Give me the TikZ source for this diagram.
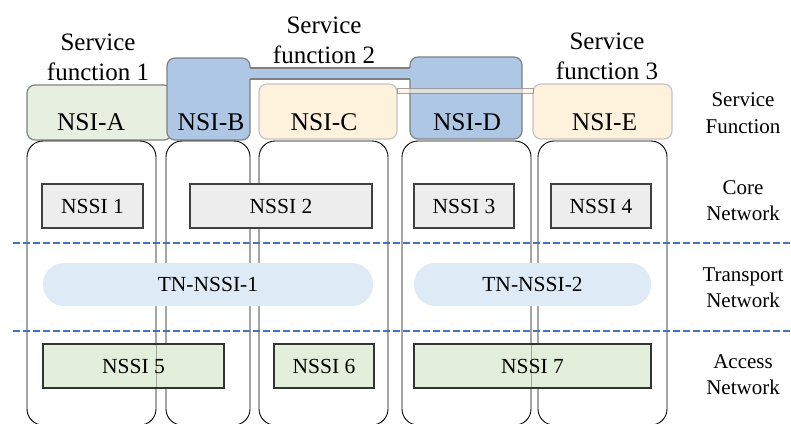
\documentclass[tikz,border=0pt]{standalone}
\usepackage{fontspec}
\setmainfont{Liberation Serif}
\usetikzlibrary{fit}
\definecolor{nsiGreen}{HTML}{E7F0E0}
\definecolor{nsiBlue}{HTML}{ADC7E5}
\definecolor{nsiCream}{HTML}{FFF2DC}
\definecolor{coreFill}{HTML}{EDEDED}
\definecolor{accFill}{HTML}{E2EFDA}
\definecolor{tnFill}{HTML}{DEEBF7}
\definecolor{sepBlue}{HTML}{4472C4}
\definecolor{edgeGray}{HTML}{808080}
\definecolor{lightEdge}{HTML}{C4C4C4}
\begin{document}
\begin{tikzpicture}[x=1pt,y=-1pt,
  box/.style={inner sep=0pt, outer sep=0pt},
  nsibox/.style={box, rounded corners=8pt, line width=1.2pt, draw=edgeGray},
  colbox/.style={box, rounded corners=16pt, draw=black, line width=0.9pt},
  nssilabel/.style={font=\fontsize{21.5}{24}\selectfont, text height=14.2pt, text depth=0pt},
  corebox/.style={box, nssilabel, minimum height=44pt, fill=coreFill, draw=black!75, line width=1.3pt},
  accbox/.style={box, nssilabel, minimum height=44pt, fill=accFill, draw=black!80, line width=1.5pt},
  tnbox/.style={box, nssilabel, minimum height=43pt, fill=tnFill, rounded corners=21pt},
  sepline/.style={draw=sepBlue, line width=1.8pt, dash pattern=on 7pt off 3pt},
  svclabel/.style={font=\fontsize{25}{30}\selectfont, align=center, inner sep=0pt},
  nsilabel/.style={font=\fontsize{25.5}{30}\selectfont, anchor=base, inner sep=0pt},
  sidelabel/.style={font=\fontsize{21}{26.3}\selectfont, align=center, inner sep=0pt},
]
\useasboundingbox (0,0) rectangle (791,423);

% network slice instances
\node[nsibox, fill=nsiGreen, fit={(27,85) (172,140)}] (nsiA) {};
\node[nsibox, fill=nsiBlue, fit={(167,58) (250,140)}] (nsiB) {};
\node[nsibox, fill=nsiBlue, fit={(410,57) (522,139)}] (nsiD) {};
% shared link between NSI-B and NSI-D
\coordinate (bTop) at (0,68);
\coordinate (bBot) at (0,79);
\fill[nsiBlue] ([xshift=-2pt]nsiB.east |- bTop) rectangle ([xshift=2pt]nsiD.west |- bBot);
\draw[edgeGray, line width=1.2pt] (nsiB.east |- bTop) -- (nsiD.west |- bTop);
\draw[edgeGray, line width=1.2pt] (nsiB.east |- bBot) -- (nsiD.west |- bBot);

\node[nsibox, fill=nsiCream, draw=lightEdge, fit={(259,84) (397,139)}] (nsiC) {};
\node[nsibox, fill=nsiCream, draw=lightEdge, fit={(533,84) (672,139)}] (nsiE) {};
% shared link between NSI-C and NSI-E
\coordinate (cTop) at (0,88);
\coordinate (cBot) at (0,93);
\path[fill=nsiCream, fill opacity=0.6, draw=edgeGray, draw opacity=0.7, line width=0.9pt]
  (nsiC.east |- cTop) rectangle (nsiE.west |- cBot);

% vertical slice columns
\node[colbox, fit={(27,141) (156,425)}] (colA) {};
\node[colbox, fit={(166,141) (250,425)}] (colB) {};
\node[colbox, fit={(259,141) (388,425)}] (colC) {};
\node[colbox, fit={(402,141) (531,425)}] (colD) {};
\node[colbox, fit={(538,141) (667,425)}] (colE) {};

% core network subnet slices
\node[corebox, minimum width=101pt] (nssi1) at (92.5,206) {NSSI 1};
\node[corebox, minimum width=182pt] (nssi2) at (281,206) {NSSI 2};
\node[corebox, minimum width=100pt] (nssi3) at (464,206) {NSSI 3};
\node[corebox, minimum width=100pt] (nssi4) at (601,206) {NSSI 4};

% transport network subnet slices
\node[tnbox, minimum width=330pt] (tn1) at (208,284.5) {TN-NSSI-1};
\node[tnbox, minimum width=237pt] (tn2) at (532.5,284.5) {TN-NSSI-2};

% access network subnet slices
\node[accbox, minimum width=181pt] (nssi5) at (133.5,366) {NSSI 5};
\node[accbox, minimum width=100pt] (nssi6) at (324,366) {NSSI 6};
\node[accbox, minimum width=237pt] (nssi7) at (532.5,366) {NSSI 7};
% column edges seen through the access boxes
\draw[black, opacity=0.3, line width=0.9pt] (colA.east |- nssi5.north) -- (colA.east |- nssi5.south);
\draw[black, opacity=0.3, line width=0.9pt] (colD.east |- nssi7.north) -- (colD.east |- nssi7.south);

% domain separators
\coordinate (s1l) at (13,243);
\coordinate (s1r) at (791,243);
\coordinate (s2l) at (13,331);
\coordinate (s2r) at (791,331);
\draw[sepline] (s1l) -- (s1r);
\draw[sepline] (s2l) -- (s2r);

% service function captions
\node[svclabel] (sf1) at (98,57) {Service\\function 1};
\node[svclabel] (sf2) at (324,40) {Service\\function 2};
\node[svclabel] (sf3) at (607,56) {Service\\function 3};

% slice names
\node[nsilabel] (tA) at (91,130.5) {NSI-A};
\node[nsilabel] (tB) at (211,130.5) {NSI-B};
\node[nsilabel] (tC) at (324,130.5) {NSI-C};
\node[nsilabel] (tD) at (467,130.5) {NSI-D};
\node[nsilabel] (tE) at (604.5,130.5) {NSI-E};

% domain names
\node[sidelabel] (dSF) at (743,113) {Service\\Function};
\node[sidelabel] (dCN) at (743,200.5) {Core\\Network};
\node[sidelabel] (dTN) at (743,287.5) {Transport\\Network};
\node[sidelabel] (dAN) at (743,375) {Access\\Network};
\end{tikzpicture}
\end{document}
